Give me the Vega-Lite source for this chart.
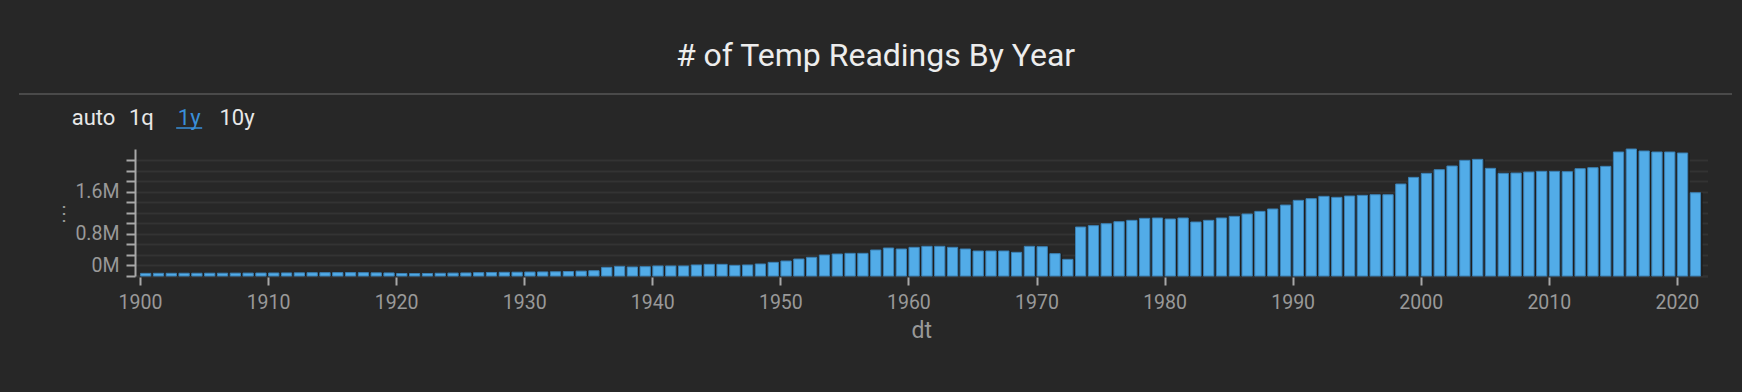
{
  "$schema": "https://vega.github.io/schema/vega-lite/v6.json",
  "background": "#272727",
  "padding": {"left": 19, "right": 12, "top": 40, "bottom": 60},
  "title": {"text": "# of Temp Readings By Year", "font": "Roboto", "fontSize": 32, "fontWeight": "normal", "color": "#ededed", "anchor": "middle", "offset": 20},
  "config": {"font": "Roboto", "view": {"stroke": null}},
  "spacing": 17,
  "vconcat": [
    {
      "width": 1711,
      "height": 0.001,
      "view": {"stroke": "#4a4a4a", "strokeWidth": 2},
      "data": {"values": [{"interval": "auto"}, {"interval": "1q"}, {"interval": "1y"}, {"interval": "10y"}]},
      "encoding": {
        "x": {"field": "interval", "type": "nominal", "sort": null, "scale": {"type": "point", "domain": ["auto", "1q", "1y", "10y"], "range": [73.5, 217], "padding": 0}, "axis": null}
      },
      "layer": [
        {
          "mark": {"type": "text", "fontSize": 22, "font": "Roboto", "yOffset": 24, "baseline": "middle", "align": "center"},
          "encoding": {
            "text": {"field": "interval"},
            "color": {"condition": {"test": "datum.interval === '1y'", "value": "#3a8fd9"}, "value": "#e8e8e8"}
          }
        },
        {
          "transform": [{"filter": "datum.interval === '1y'"}],
          "mark": {"type": "tick", "orient": "horizontal", "size": 26, "thickness": 1.5, "color": "#3a8fd9", "yOffset": 34, "opacity": 1},
          "encoding": {}
        }
      ]
    },
    {
      "spacing": 0,
      "align": "each",
      "hconcat": [
        {
          "width": 0.001,
          "height": 127,
          "data": {"values": [{"s": ""}]},
          "mark": {"type": "text", "opacity": 0},
          "encoding": {"text": {"field": "s"}}
        },
        {
          "width": 1572.5,
          "height": 127,
          "data": {
            "format": {"parse": {"dt": "utc:'%Y'"}},
            "values": [
              {"dt": "1900", "count": 50000}, {"dt": "1901", "count": 51000}, {"dt": "1902", "count": 51000}, {"dt": "1903", "count": 52000},
              {"dt": "1904", "count": 52000}, {"dt": "1905", "count": 53000}, {"dt": "1906", "count": 53000}, {"dt": "1907", "count": 54000},
              {"dt": "1908", "count": 55000}, {"dt": "1909", "count": 56000}, {"dt": "1910", "count": 57000}, {"dt": "1911", "count": 58000},
              {"dt": "1912", "count": 60000}, {"dt": "1913", "count": 62000}, {"dt": "1914", "count": 63000}, {"dt": "1915", "count": 64000},
              {"dt": "1916", "count": 64000}, {"dt": "1917", "count": 63000}, {"dt": "1918", "count": 60000}, {"dt": "1919", "count": 58000},
              {"dt": "1920", "count": 48000}, {"dt": "1921", "count": 46000}, {"dt": "1922", "count": 48000}, {"dt": "1923", "count": 52000},
              {"dt": "1924", "count": 55000}, {"dt": "1925", "count": 58000}, {"dt": "1926", "count": 63000}, {"dt": "1927", "count": 67000},
              {"dt": "1928", "count": 70000}, {"dt": "1929", "count": 72000}, {"dt": "1930", "count": 75000}, {"dt": "1931", "count": 77000},
              {"dt": "1932", "count": 80000}, {"dt": "1933", "count": 85000}, {"dt": "1934", "count": 92000}, {"dt": "1935", "count": 100000},
              {"dt": "1936", "count": 164000}, {"dt": "1937", "count": 183000}, {"dt": "1938", "count": 171000}, {"dt": "1939", "count": 177000},
              {"dt": "1940", "count": 190000}, {"dt": "1941", "count": 190000}, {"dt": "1942", "count": 190000}, {"dt": "1943", "count": 209000},
              {"dt": "1944", "count": 221000}, {"dt": "1945", "count": 221000}, {"dt": "1946", "count": 202000}, {"dt": "1947", "count": 209000},
              {"dt": "1948", "count": 228000}, {"dt": "1949", "count": 259000}, {"dt": "1950", "count": 284000}, {"dt": "1951", "count": 322000},
              {"dt": "1952", "count": 354000}, {"dt": "1953", "count": 398000}, {"dt": "1954", "count": 417000}, {"dt": "1955", "count": 430000},
              {"dt": "1956", "count": 430000}, {"dt": "1957", "count": 493000}, {"dt": "1958", "count": 531000}, {"dt": "1959", "count": 512000},
              {"dt": "1960", "count": 544000}, {"dt": "1961", "count": 563000}, {"dt": "1962", "count": 563000}, {"dt": "1963", "count": 544000},
              {"dt": "1964", "count": 512000}, {"dt": "1965", "count": 474000}, {"dt": "1966", "count": 474000}, {"dt": "1967", "count": 474000},
              {"dt": "1968", "count": 449000}, {"dt": "1969", "count": 563000}, {"dt": "1970", "count": 556000}, {"dt": "1971", "count": 424000},
              {"dt": "1972", "count": 316000}, {"dt": "1973", "count": 929000}, {"dt": "1974", "count": 955000}, {"dt": "1975", "count": 992000},
              {"dt": "1976", "count": 1030000}, {"dt": "1977", "count": 1056000}, {"dt": "1978", "count": 1094000}, {"dt": "1979", "count": 1100000},
              {"dt": "1980", "count": 1081000}, {"dt": "1981", "count": 1100000}, {"dt": "1982", "count": 1024000}, {"dt": "1983", "count": 1056000},
              {"dt": "1984", "count": 1100000}, {"dt": "1985", "count": 1132000}, {"dt": "1986", "count": 1176000}, {"dt": "1987", "count": 1226000},
              {"dt": "1988", "count": 1271000}, {"dt": "1989", "count": 1346000}, {"dt": "1990", "count": 1435000}, {"dt": "1991", "count": 1467000},
              {"dt": "1992", "count": 1511000}, {"dt": "1993", "count": 1492000}, {"dt": "1994", "count": 1517000}, {"dt": "1995", "count": 1530000},
              {"dt": "1996", "count": 1542000}, {"dt": "1997", "count": 1542000}, {"dt": "1998", "count": 1745000}, {"dt": "1999", "count": 1871000},
              {"dt": "2000", "count": 1947000}, {"dt": "2001", "count": 2017000}, {"dt": "2002", "count": 2086000}, {"dt": "2003", "count": 2194000},
              {"dt": "2004", "count": 2213000}, {"dt": "2005", "count": 2042000}, {"dt": "2006", "count": 1947000}, {"dt": "2007", "count": 1953000},
              {"dt": "2008", "count": 1972000}, {"dt": "2009", "count": 1985000}, {"dt": "2010", "count": 1985000}, {"dt": "2011", "count": 1979000},
              {"dt": "2012", "count": 2036000}, {"dt": "2013", "count": 2055000}, {"dt": "2014", "count": 2080000}, {"dt": "2015", "count": 2352000},
              {"dt": "2016", "count": 2409000}, {"dt": "2017", "count": 2371000}, {"dt": "2018", "count": 2352000}, {"dt": "2019", "count": 2352000},
              {"dt": "2020", "count": 2333000}, {"dt": "2021", "count": 1580000}
            ]
          },
          "encoding": {
            "x": {
              "field": "dt",
              "type": "temporal",
              "title": "dt",
              "scale": {"type": "utc", "domain": [{"year": 1900, "utc": true}, {"year": 2022, "utc": true}], "nice": false},
              "axis": {
                "format": "%Y",
                "tickCount": {"interval": "year", "step": 10},
                "grid": false,
                "labelColor": "#999999",
                "labelFontSize": 19.5,
                "labelFont": "Roboto",
                "labelPadding": 8,
                "labelFlush": false,
                "labelOverlap": false,
                "tickColor": "#a8a8a8",
                "tickWidth": 2,
                "tickSize": 9,
                "domainColor": "#333333",
                "domainWidth": 2,
                "titleColor": "#999999",
                "titleFont": "Roboto",
                "titleFontSize": 23,
                "titleFontWeight": "normal",
                "titlePadding": 8
              }
            },
            "y": {
              "field": "count",
              "type": "quantitative",
              "scale": {"domain": [0, 2409000], "nice": false, "zero": true},
              "axis": {
                "values": [0, 200000, 400000, 600000, 800000, 1000000, 1200000, 1400000, 1600000, 1800000, 2000000, 2200000],
                "labelExpr": "datum.value == 200000 ? '0M' : datum.value == 800000 ? '0.8M' : datum.value == 1600000 ? '1.6M' : ''",
                "grid": true,
                "gridColor": "#333333",
                "gridWidth": 2,
                "tickColor": "#a8a8a8",
                "tickWidth": 2,
                "tickSize": 9,
                "domainColor": "#a8a8a8",
                "domainWidth": 2,
                "labelColor": "#999999",
                "labelFont": "Roboto",
                "labelFontSize": 19.5,
                "labelPadding": 7,
                "title": "⋮",
                "titleAngle": 0,
                "titleX": -72,
                "titleY": 64,
                "titleAlign": "center",
                "titleBaseline": "middle",
                "titleColor": "#999999",
                "titleFontSize": 20,
                "titleFontWeight": "normal",
                "minExtent": 114
              }
            }
          },
          "layer": [
            {"mark": {"type": "bar", "width": 12.9, "xOffset": 6.45, "color": "#1e1e1e"}},
            {"mark": {"type": "bar", "width": 10.3, "xOffset": 5.7, "color": "#52ace8", "stroke": "#3b80b4", "strokeWidth": 1}}
          ]
        }
      ]
    }
  ]
}
